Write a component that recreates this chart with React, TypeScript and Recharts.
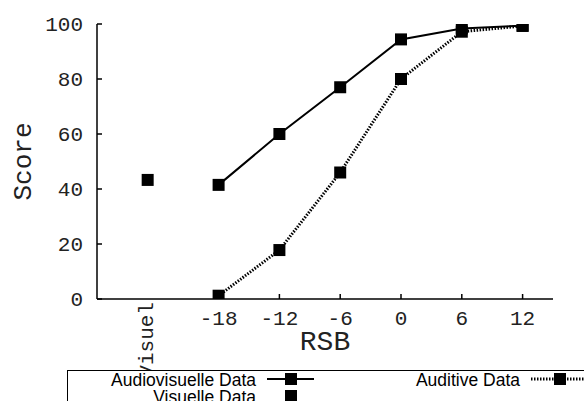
import { ComposedChart, Line, XAxis, YAxis } from "recharts";

const rsb = [-18, -12, -6, 0, 6, 12];
const audiovisuelle = [41.5, 60, 77, 94.4, 98.4, 99.4];
const auditive = [1.2, 17.8, 46, 80, 97.2, 99.3];
const visuelleX = -25;
const visuelleScore = 43.3;
const xTicks = [-25, -18, -12, -6, 0, 6, 12];
const yTicks = [0, 20, 40, 60, 80, 100];

const avData = rsb.map((x, i) => ({ x, y: audiovisuelle[i] }));
const aData = rsb.map((x, i) => ({ x, y: auditive[i] }));
const vData = [{ x: visuelleX, y: visuelleScore }];

const mono = "'Liberation Mono', 'Courier New', monospace";
const sans = "'Liberation Sans', Arial, sans-serif";
const INK = "#000";

const Square = (props: any) => {
  const { cx, cy } = props;
  if (cx == null || cy == null) return null;
  return <rect x={cx - 6} y={cy - 6} width={12} height={12} fill={INK} />;
};

const BottomTick = (props: any) => {
  const { x, y, payload } = props;
  if (payload.value === visuelleX) {
    return (
      <text x={x + 5} y={y + 3} transform={`rotate(-90, ${x + 5}, ${y + 3})`} textAnchor="end" fontFamily={mono} fontSize={21} fill="#222">
        Visuel
      </text>
    );
  }
  return (
    <g>
      <line x1={x} y1={y} x2={x} y2={y - 5} stroke={INK} strokeWidth={1.5} />
      <text x={x} y={y + 26} textAnchor="middle" fontFamily={mono} fontSize={21} fill="#222">
        {payload.value}
      </text>
    </g>
  );
};

const TopTick = (props: any) => {
  const { x, y, payload } = props;
  if (payload.value === visuelleX) return null;
  return <line x1={x} y1={y} x2={x} y2={y + 5} stroke={INK} strokeWidth={1.5} />;
};

const LeftTick = (props: any) => {
  const { x, y, payload } = props;
  return (
    <g>
      <line x1={x} y1={y} x2={x + 5} y2={y} stroke={INK} strokeWidth={1.5} />
      <text x={x - 14} y={y + 7} textAnchor="end" fontFamily={mono} fontSize={21} fill="#222">
        {payload.value}
      </text>
    </g>
  );
};

const RightTick = (props: any) => {
  const { x, y } = props;
  return <line x1={x} y1={y} x2={x - 5} y2={y} stroke={INK} strokeWidth={1.5} />;
};

function LegendBox() {
  return (
    <svg width={584} height={401} style={{ position: "absolute", left: 0, top: 0, pointerEvents: "none" }}>
      <rect x={67.5} y={370.5} width={600} height={100} fill="#fff" stroke={INK} strokeWidth={1} />
      <text x={256} y={386} textAnchor="end" fontFamily={sans} fontSize={17.5} fill={INK}>Audiovisuelle Data</text>
      <line x1={267} y1={379} x2={314} y2={379} stroke={INK} strokeWidth={2} />
      <rect x={285} y={373} width={12} height={12} fill={INK} />
      <text x={520} y={386} textAnchor="end" fontFamily={sans} fontSize={17.5} fill={INK}>Auditive Data</text>
      <line x1={531} y1={379} x2={584} y2={379} stroke={INK} strokeWidth={3} strokeDasharray="1.5 1.5" />
      <rect x={554} y={373} width={12} height={12} fill={INK} />
      <text x={256} y={403} textAnchor="end" fontFamily={sans} fontSize={17.5} fill={INK}>Visuelle Data</text>
      <rect x={285} y={390} width={12} height={12} fill={INK} />
    </svg>
  );
}

export default function App() {
  return (
    <div style={{ position: "relative", width: 584, height: 401, background: "#fff" }}>
      <style>{"body{margin:0}"}</style>
      <ComposedChart width={584} height={401} margin={{ top: 24, right: 31, left: 0, bottom: 42 }}>
        <XAxis
          dataKey="x"
          type="number"
          domain={[-30, 15]}
          ticks={xTicks}
          interval={0}
          height={60}
          tickSize={0}
          tickMargin={0}
          tickLine={false}
          axisLine={{ stroke: INK, strokeWidth: 1.5 }}
          tick={<BottomTick />}
          allowDataOverflow
          label={{
            content: (p: any) => (
              <text x={p.viewBox.x + p.viewBox.width / 2} y={350} textAnchor="middle" fontFamily={mono} fontSize={28} fill="#222">
                RSB
              </text>
            ),
          }}
        />
        <XAxis
          xAxisId="top"
          orientation="top"
          dataKey="x"
          type="number"
          domain={[-30, 15]}
          ticks={xTicks}
          interval={0}
          height={0}
          tickSize={0}
          tickMargin={0}
          tickLine={false}
          axisLine={{ stroke: INK, strokeWidth: 1.5 }}
          tick={<TopTick />}
          allowDataOverflow
        />
        <YAxis
          type="number"
          domain={[0, 100]}
          ticks={yTicks}
          interval={0}
          width={97}
          tickSize={0}
          tickMargin={0}
          tickLine={false}
          axisLine={{ stroke: INK, strokeWidth: 1.5 }}
          tick={<LeftTick />}
          allowDataOverflow
          label={{
            content: (p: any) => {
              const cy = p.viewBox.y + p.viewBox.height / 2;
              return (
                <text x={31} y={cy} transform={`rotate(-90, 31, ${cy})`} textAnchor="middle" fontFamily={mono} fontSize={26} fill="#222">
                  Score
                </text>
              );
            },
          }}
        />
        <YAxis
          yAxisId="right"
          orientation="right"
          type="number"
          domain={[0, 100]}
          ticks={yTicks}
          interval={0}
          width={0}
          tickSize={0}
          tickMargin={0}
          tickLine={false}
          axisLine={{ stroke: INK, strokeWidth: 1.5 }}
          tick={<RightTick />}
          allowDataOverflow
        />
        <Line
          data={aData}
          dataKey="y"
          name="Auditive Data"
          type="linear"
          stroke={INK}
          strokeWidth={3}
          strokeDasharray="1.5 1.5"
          dot={<Square />}
          activeDot={false}
          isAnimationActive={false}
        />
        <Line
          data={avData}
          dataKey="y"
          name="Audiovisuelle Data"
          type="linear"
          stroke={INK}
          strokeWidth={2}
          dot={<Square />}
          activeDot={false}
          isAnimationActive={false}
        />
        <Line
          data={vData}
          dataKey="y"
          name="Visuelle Data"
          stroke="none"
          dot={<Square />}
          activeDot={false}
          isAnimationActive={false}
        />
      </ComposedChart>
      <LegendBox />
    </div>
  );
}
